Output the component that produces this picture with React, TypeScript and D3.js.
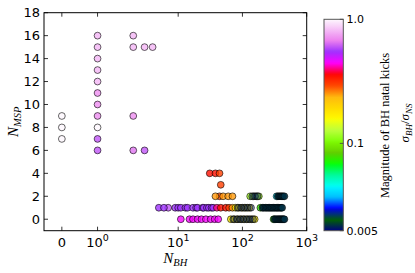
import React from 'react';
import * as d3 from 'd3';

// ---- data: [N_BH, N_MSP] per BH kick magnitude (sigma_BH / sigma_NS) ----
const kick100 = [[0, 7], [0, 8], [0, 9], [1, 8]];
const kick80 = [[1, 12], [1, 13], [1, 14], [1, 15], [1, 16], [2, 15], [2, 16], [3, 15], [4, 15]];
const kick70 = [[1, 9], [1, 10], [1, 11], [2, 9]];
const kick65 = [[2, 6]];
const kick60 = [[1, 6], [1, 7], [3, 6], [7, 1]];
const kick55 = [[5, 1], [6, 1], [9, 1], [10, 1], [11, 1], [13, 1], [14, 1], [17, 1], [19, 1], [20, 1], [24, 1], [25, 1], [28, 1], [30, 1], [33, 1], [35, 1]];
const kick45 = [[11, 0], [15, 0], [17, 0], [20, 0], [23, 0], [27, 0], [32, 0], [37, 0], [42, 0]];
const kick40 = [[40, 1]];
const kick35 = [[31, 4], [38, 4], [46, 1], [55, 1]];
const kick30 = [[44, 4], [46, 3], [44, 2], [62, 1]];
const kick25 = [[38, 2], [50, 2], [60, 2], [70, 2], [70, 1]];
const kick17 = [[66, 0], [75, 0], [85, 0], [96, 0], [108, 0], [122, 0], [138, 0], [155, 0], [78, 1], [88, 1], [100, 1], [113, 1], [128, 1]];
const kick12 = [[132, 2], [150, 2], [165, 2], [180, 2]];
const kick06 = [[305, 0], [190, 1]];
const kick02 = [[340, 2]];
const kick006 = [
  [315, 0], [330, 0], [345, 0], [360, 0], [375, 0], [390, 0], [405, 0], [420, 0], [435, 0], [450, 0],
  [205, 1], [215, 1], [228, 1], [240, 1], [252, 1], [265, 1], [278, 1], [290, 1], [305, 1], [320, 1], [335, 1], [350, 1], [367, 1], [385, 1], [400, 1], [415, 1],
  [355, 2], [370, 2], [385, 2], [400, 2], [415, 2], [430, 2], [450, 2],
];
const kick0055 = [[72, 0], [82, 0], [92, 0], [103, 0], [116, 0], [130, 0], [146, 0], [84, 1], [95, 1], [107, 1], [120, 1], [136, 1], [142, 2], [157, 2], [172, 2]];

const groups: [number, number[][]][] = [
  [1.0, kick100], [0.8, kick80], [0.7, kick70], [0.65, kick65], [0.6, kick60],
  [0.55, kick55], [0.45, kick45], [0.4, kick40], [0.35, kick35], [0.3, kick30],
  [0.25, kick25], [0.17, kick17], [0.12, kick12], [0.06, kick06], [0.02, kick02],
  [0.006, kick006], [0.0055, kick0055],
];

const yTicks = [0, 2, 4, 6, 8, 10, 12, 14, 16, 18];
const xTicks = [0, 1, 10, 100, 1000];
const xTickLabels = ['0', '10|0', '10|1', '10|2', '10|3'];
const cbarTicks = [1.0, 0.1, 0.005];
const cbarTickLabels = ['1.0', '0.1', '0.005'];

// gist_ncar segment data
const ncarR = [[0, 0], [0.3098, 0], [0.3725, 0.3993], [0.4235, 0.5003], [0.5333, 1], [0.7922, 1], [0.8471, 0.6218], [0.898, 0.9235], [1, 0.9961]];
const ncarG = [[0, 0], [0.051, 0.3722], [0.1059, 0], [0.1569, 0.7202], [0.1608, 0.7537], [0.1647, 0.7752], [0.2157, 1], [0.2588, 0.9804], [0.2706, 0.9804], [0.3176, 1], [0.3686, 0.8081], [0.4275, 1], [0.5216, 1], [0.6314, 0.7292], [0.6863, 0.2796], [0.7451, 0], [0.7922, 0], [0.8431, 0.1753], [0.898, 0.5], [1, 0.9725]];
const ncarB = [[0, 0.502], [0.051, 0.0222], [0.1098, 1], [0.2039, 1], [0.2627, 0.6145], [0.3216, 0], [0.4157, 0], [0.4745, 0.2342], [0.5333, 0], [0.5804, 0], [0.6314, 0.0549], [0.6902, 0], [0.7373, 0], [0.7922, 0.9738], [0.8, 1], [0.8431, 1], [0.898, 0.9341], [1, 0.9961]];
const chan = (s: number[][]) => d3.scaleLinear().domain(s.map(d => d[0])).range(s.map(d => d[1])).clamp(true);
const cr = chan(ncarR), cg = chan(ncarG), cb = chan(ncarB);
const ncar = (t: number) => d3.rgb(cr(t) * 255, cg(t) * 255, cb(t) * 255).toString();

// matplotlib style symlog, linthresh 2, linscale 1
const LT = 2, LS = 1 / (1 - 0.1);
const symlog = (v: number) => {
  const a = Math.abs(v);
  return a <= LT ? (v / LT) * LS : Math.sign(v) * (LS + Math.log10(a / LT));
};

const X0 = 44, X1 = 306.7, Y0 = 12.7, Y1 = 230.7;
const CX0 = 324, CX1 = 343.3, CY0 = 19.3, CY1 = 230.7;

export default function App() {
  const xLin = d3.scaleLinear().domain([symlog(-0.5), symlog(1000)]).range([X0, X1]);
  const x = (v: number) => xLin(symlog(v));
  const y = d3.scaleLinear().domain([-1, 18]).range([Y1, Y0]);
  const norm = d3.scaleLog().domain([0.005, 0.1, 1]).range([0, 0.413, 1]).clamp(true);
  const cbarY = d3.scaleLog().domain([0.005, 0.1, 1]).range([CY1, CY1 - 0.413 * (CY1 - CY0), CY0]);
  const stops = d3.range(0, 1.0001, 0.01);

  const pts: { nb: number; nm: number; s: number }[] = [];
  groups.forEach(([s, arr]) => arr.forEach(([nb, nm]) => pts.push({ nb, nm, s })));

  const font = 'DejaVu Sans';
  return (
    <svg width={415} height={273} style={{ position: 'absolute', left: 0, top: 0, background: '#fff' }}>
      <defs>
        <linearGradient id="cb" x1="0" y1="1" x2="0" y2="0">
          {stops.map(t => <stop key={t} offset={t} stopColor={ncar(t)} />)}
        </linearGradient>
        <clipPath id="plot"><rect x={X0} y={Y0} width={X1 - X0} height={Y1 - Y0} /></clipPath>
      </defs>

      <g clipPath="url(#plot)">
        {pts.map((p, i) => (
          <circle key={i} cx={x(p.nb)} cy={y(p.nm)} r={3.4}
            fill={ncar(norm(p.s))} fillOpacity={p.s < 0.0058 ? 0.42 : 0.8}
            stroke="#000" strokeOpacity={0.75} strokeWidth={0.8} />
        ))}
      </g>

      {/* ticks */}
      {yTicks.map(t => (
        <g key={'y' + t}>
          <line x1={X0} x2={X0 + 4} y1={y(t)} y2={y(t)} stroke="#000" strokeWidth={0.8} />
          <line x1={X1} x2={X1 - 4} y1={y(t)} y2={y(t)} stroke="#000" strokeWidth={0.8} />
          <text x={40} y={y(t) + 4.6} textAnchor="end" fontFamily={font} fontSize={13}>{t}</text>
        </g>
      ))}
      {xTicks.map((t, i) => {
        const [base, sup] = xTickLabels[i].split('|');
        return (
          <g key={'x' + t}>
            <line x1={x(t)} x2={x(t)} y1={Y1} y2={Y1 - 4} stroke="#000" strokeWidth={0.8} />
            <line x1={x(t)} x2={x(t)} y1={Y0} y2={Y0 + 4} stroke="#000" strokeWidth={0.8} />
            <text x={x(t)} y={246.7} textAnchor="middle" fontFamily={font} fontSize={13}>
              {base}
              {sup !== undefined && <tspan dy={-5.5} fontSize={9.5}>{sup}</tspan>}
            </text>
          </g>
        );
      })}
      <rect x={X0} y={Y0} width={X1 - X0} height={Y1 - Y0} fill="none" stroke="#000" strokeWidth={1} />

      {/* axis labels */}
      <text x={(X0 + X1) / 2} y={263} textAnchor="middle" fontFamily="Liberation Serif" fontStyle="italic" fontSize={15}>
        N<tspan dy={3} fontSize={10.5}>BH</tspan>
      </text>
      <text transform={`translate(18,${(Y0 + Y1) / 2}) rotate(-90)`} textAnchor="middle" fontFamily="Liberation Serif" fontStyle="italic" fontSize={15}>
        N<tspan dy={3} fontSize={10.5}>MSP</tspan>
      </text>

      {/* colorbar */}
      <rect x={CX0} y={CY0} width={CX1 - CX0} height={CY1 - CY0} fill="url(#cb)" stroke="#555" strokeWidth={1} />
      {cbarTicks.map((t, i) => (
        <g key={'c' + t}>
          <line x1={CX1} x2={CX1 - 3.5} y1={cbarY(t)} y2={cbarY(t)} stroke="#444" strokeWidth={0.8} />
          <text x={346.5} y={cbarY(t) + 4} fontFamily={font} fontSize={11}>{cbarTickLabels[i]}</text>
        </g>
      ))}
      <text transform={`translate(389,125.5) rotate(-90)`} textAnchor="middle" fontFamily="Liberation Serif" fontSize={12.5}>
        Magnitude of BH natal kicks
      </text>
      <text transform={`translate(409,123) rotate(-90)`} textAnchor="middle" fontFamily="Liberation Serif" fontStyle="italic" fontSize={13}>
        σ<tspan dy={2.5} fontSize={9}>BH</tspan><tspan dy={-2.5} fontStyle="normal">/</tspan>σ<tspan dy={2.5} fontSize={9}>NS</tspan>
      </text>
    </svg>
  );
}
